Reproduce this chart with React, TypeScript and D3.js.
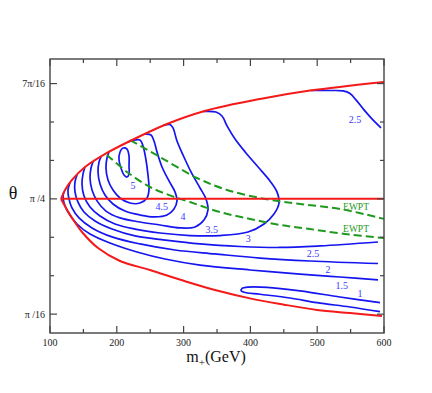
import React from 'react';
import * as d3 from 'd3';

const W = 432, H = 393;
const xMajor = [100, 200, 300, 400, 500, 600];
const xMinor = [150, 250, 350, 450, 550];
const yStepsPi16 = [1, 2, 3, 4, 5, 6, 7];
const yLabels: Record<number, string> = { 1: 'π /16', 4: 'π /4', 7: '7π/16' };

type P = [number, number];
const redUpper: P[] = [[116.5,0.785],[122.5,0.831],[132.9,0.882],[152.4,0.948],[185.3,1.020],[219.8,1.081],[275.1,1.168],[329.0,1.232],[414.4,1.296],[489.2,1.339],[600,1.383]];
const redLower: P[] = [[116.5,0.785],[124.0,0.739],[132.9,0.688],[147.9,0.616],[171.9,0.534],[204.8,0.468],[249.7,0.422],[299.1,0.368],[350.0,0.317],[399.4,0.277],[448.8,0.246],[499.7,0.218],[549.1,0.202],[597.0,0.187]];
const redMid: P[] = [[116.5,Math.PI/4],[600,Math.PI/4]];

const ewptUpper: P[] = [[219.8,1.086],[264.7,0.999],[320.1,0.892],[365.0,0.831],[421.9,0.785],[474.3,0.759],[534.1,0.734],[600,0.683]];
const ewptLower: P[] = [[185.3,1.010],[215.3,0.923],[249.7,0.846],[279.6,0.803],[309.6,0.769],[354.5,0.718],[399.4,0.683],[444.3,0.652],[489.2,0.631],[541.6,0.606],[600,0.585]];

const c15: P[] = [[121.0,0.822],[119.5,0.800],[121.0,0.764],[126.9,0.718],[140.4,0.657],[159.9,0.606],[189.8,0.560],[230.2,0.514],[272.2,0.478],[324.6,0.447],[399.4,0.422],[474.3,0.401],[534.1,0.386],[591.0,0.371]];
const c20: P[] = [[129.9,0.867],[126.9,0.831],[128.4,0.785],[132.9,0.739],[143.4,0.688],[162.9,0.637],[192.8,0.591],[234.7,0.555],[287.1,0.524],[347.0,0.504],[414.4,0.483],[489.2,0.468],[591.0,0.455]];
const c25: P[] = [[140.4,0.907],[137.4,0.872],[137.4,0.821],[141.9,0.769],[150.9,0.718],[167.4,0.672],[192.8,0.631],[227.2,0.596],[272.2,0.575],[324.6,0.555],[384.4,0.542],[444.3,0.537],[504.2,0.545],[591.0,0.565]];
const c30: P[] = [[152.4,0.948],[149.4,0.912],[147.9,0.861],[150.9,0.800],[159.9,0.744],[174.9,0.698],[197.3,0.657],[227.2,0.631],[264.7,0.611],[309.6,0.598],[354.5,0.598],[396.4,0.616],[420.4,0.657],[435.3,0.708],[442.8,0.764],[439.8,0.821],[429.3,0.877],[412.9,0.943],[393.4,1.020],[377.0,1.091],[365.0,1.158],[357.5,1.209],[348.5,1.229],[329.0,1.232]];
const c35: P[] = [[164.4,0.975],[161.4,0.943],[159.9,0.892],[162.9,0.831],[170.4,0.775],[183.8,0.723],[204.8,0.688],[234.7,0.667],[264.7,0.652],[294.6,0.637],[317.1,0.642],[330.5,0.677],[336.5,0.729],[333.5,0.785],[324.6,0.841],[311.1,0.923],[299.1,1.010],[290.1,1.081],[284.1,1.148],[279.6,1.165],[269.2,1.160]];
const c40: P[] = [[176.3,1.000],[173.4,0.974],[171.9,0.923],[174.9,0.861],[182.3,0.805],[194.3,0.759],[212.3,0.723],[234.7,0.703],[257.2,0.693],[275.1,0.703],[285.6,0.734],[290.1,0.775],[287.1,0.821],[278.1,0.877],[267.7,0.948],[260.2,1.025],[255.7,1.081],[251.2,1.112],[242.2,1.116]];
const c45: P[] = [[188.3,1.025],[185.3,0.994],[183.8,0.943],[186.8,0.882],[194.3,0.831],[204.8,0.790],[219.8,0.764],[234.7,0.764],[245.2,0.790],[248.2,0.831],[246.7,0.907],[243.7,0.984],[239.2,1.056],[234.7,1.086],[216.8,1.076]];
const c50: P[] = [[203.3,0.984],[204.8,1.025],[209.3,1.045],[215.3,1.040],[218.3,1.004],[218.3,0.953],[218.3,0.912],[215.3,0.897],[210.8,0.907],[206.3,0.943]];
const c10: P[] = [[594.0,0.255],[534.1,0.284],[474.3,0.315],[424.9,0.333],[396.4,0.334],[387.4,0.327],[385.9,0.317],[390.4,0.308],[414.4,0.298],[459.3,0.279],[499.7,0.255],[549.1,0.233],[594.0,0.209]];
const c25top: P[] = [[490.7,1.339],[519.2,1.339],[538.6,1.337],[549.1,1.324],[558.1,1.291],[570.1,1.240],[582.0,1.194],[595.5,1.148]];

const openContours = [c15, c20, c25, c30, c35, c40, c45, c10, c25top];
const closedContours = [c50];

const contourLabels: { t: string; m: number; th: number }[] = [
  { t: '5', m: 224.3, th: 0.856 },
  { t: '4.5', m: 267.2, th: 0.745 },
  { t: '4', m: 299.1, th: 0.694 },
  { t: '3.5', m: 342.1, th: 0.630 },
  { t: '3', m: 396.9, th: 0.584 },
  { t: '2.5', m: 493.7, th: 0.507 },
  { t: '2', m: 516.2, th: 0.422 },
  { t: '1.5', m: 536.7, th: 0.345 },
  { t: '1', m: 564.1, th: 0.303 },
  { t: '2.5', m: 556.6, th: 1.192 },
];
const ewptLabels: { t: string; m: number; th: number }[] = [
  { t: 'EWPT', m: 558.1, th: 0.745 },
  { t: 'EWPT', m: 558.1, th: 0.635 },
];

const L = 50, R = 384, T = 59, B = 333;
const FONT = '"Liberation Serif", "DejaVu Serif", serif';

export default function App() {
  const x = d3.scaleLinear().domain([100, 600]).range([L, R]);
  const y = d3.scaleLinear().domain([0.1, 1.5]).range([B, T]);
  const line = d3.line<P>().x(d => x(d[0])).y(d => y(d[1])).curve(d3.curveCatmullRom.alpha(0.5));
  const lineLin = d3.line<P>().x(d => x(d[0])).y(d => y(d[1]));
  const closed = d3.line<P>().x(d => x(d[0])).y(d => y(d[1])).curve(d3.curveCatmullRomClosed.alpha(0.5));
  const blue = '#1515f0';
  const red = '#f41a1a';
  const green = '#1f9a1f';
  const frame = '#444';
  const ts = { fontFamily: FONT };

  return (
    <svg width={W} height={H} style={{ position: 'absolute', left: 0, top: 0, background: '#fff' }}>
      <rect x={0} y={0} width={W} height={H} fill="#fff" />
      {openContours.map((c, i) => (
        <path key={'o' + i} d={line(c) || ''} fill="none" stroke={blue} strokeWidth={1.7} />
      ))}
      {closedContours.map((c, i) => (
        <path key={'c' + i} d={closed(c) || ''} fill="none" stroke={blue} strokeWidth={1.7} />
      ))}
      {[ewptUpper, ewptLower].map((c, i) => (
        <path key={'g' + i} d={line(c) || ''} fill="none" stroke={green} strokeWidth={2} strokeDasharray="8,4" />
      ))}
      <path d={line(redUpper) || ''} fill="none" stroke={red} strokeWidth={2} />
      <path d={line(redLower) || ''} fill="none" stroke={red} strokeWidth={2} />
      <path d={lineLin(redMid) || ''} fill="none" stroke={red} strokeWidth={2} />
      {contourLabels.map((l, i) => (
        <text key={'l' + i} x={x(l.m)} y={y(l.th)} dy="0.35em" textAnchor="middle" fontSize={10} fill="#3a3aff" style={ts}>{l.t}</text>
      ))}
      {ewptLabels.map((l, i) => (
        <text key={'e' + i} x={x(l.m)} y={y(l.th)} dy="0.35em" textAnchor="middle" fontSize={9.5} fill={green} style={ts}>{l.t}</text>
      ))}
      <rect x={L} y={T} width={R - L} height={B - T} fill="none" stroke={frame} strokeWidth={1.4} />
      {xMajor.map(v => (
        <g key={'xm' + v}>
          <line x1={x(v)} x2={x(v)} y1={B} y2={B - 7} stroke={frame} strokeWidth={1.2} />
          <line x1={x(v)} x2={x(v)} y1={T} y2={T + 7} stroke={frame} strokeWidth={1.2} />
          <text x={x(v)} y={B + 13} textAnchor="middle" fontSize={10} fill="#222" style={ts}>{v}</text>
        </g>
      ))}
      {xMinor.map(v => (
        <g key={'xn' + v}>
          <line x1={x(v)} x2={x(v)} y1={B} y2={B - 4} stroke={frame} strokeWidth={1.2} />
          <line x1={x(v)} x2={x(v)} y1={T} y2={T + 4} stroke={frame} strokeWidth={1.2} />
        </g>
      ))}
      {yStepsPi16.map(k => {
        const yy = y((k * Math.PI) / 16);
        const major = !!yLabels[k];
        const len = major ? 7 : 4;
        return (
          <g key={'y' + k}>
            <line x1={L} x2={L + len} y1={yy} y2={yy} stroke={frame} strokeWidth={1.2} />
            <line x1={R} x2={R - len} y1={yy} y2={yy} stroke={frame} strokeWidth={1.2} />
            {major && (
              <text x={L - 5} y={yy} dy="0.35em" textAnchor="end" fontSize={10} fill="#222" style={ts}>{yLabels[k]}</text>
            )}
          </g>
        );
      })}
      <text x={216} y={362} textAnchor="middle" fontSize={16} fill="#111" style={ts}>
        m<tspan fontSize={11} dy={4}>+</tspan><tspan dy={-4}>(GeV)</tspan>
      </text>
      <text x={13} y={199} textAnchor="middle" fontSize={18} fill="#111" style={ts}>θ</text>
    </svg>
  );
}
